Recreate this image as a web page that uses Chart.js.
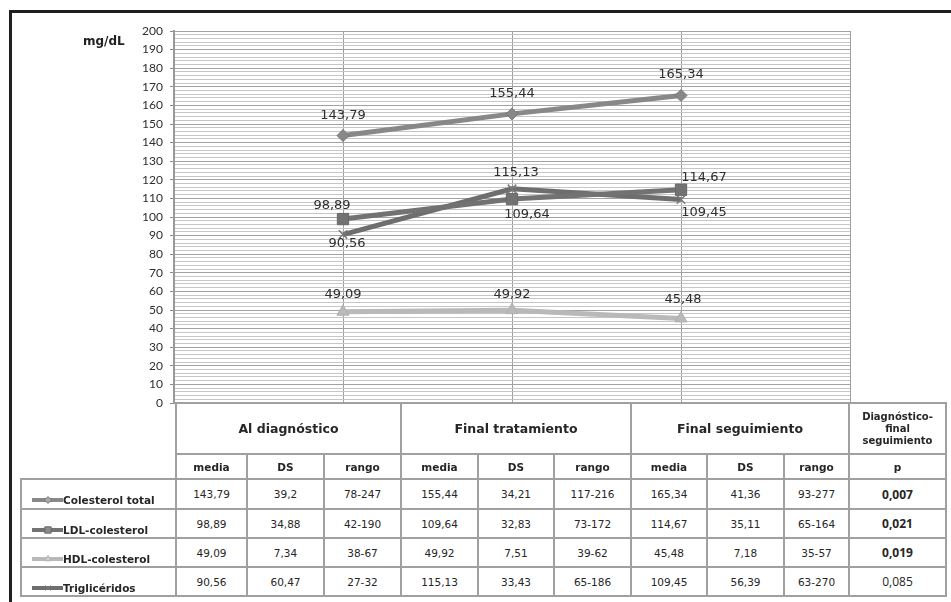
<!DOCTYPE html>
<html>
<head>
<meta charset="utf-8">
<script src="https://cdn.jsdelivr.net/npm/chart.js@4.4.0/dist/chart.umd.min.js"></script>
<style>
  html, body { margin: 0; padding: 0; background: #fff; }
  body { width: 951px; height: 602px; position: relative; overflow: hidden; font-family: "DejaVu Sans", sans-serif; }
  #chart { position: absolute; left: 0; top: 0; }
  #frame { position: absolute; left: 9px; top: 10px; width: 980px; height: 640px;
           border-top: 3px solid #1f1f1f; border-left: 3px solid #1f1f1f; pointer-events: none; }
  #table { position: absolute; left: 0; top: 0; width: 951px; height: 602px; }
  .cell { position: absolute; box-sizing: border-box; border: 2px solid #a0a0a0;
          display: flex; align-items: center; justify-content: center; text-align: center;
          color: #262626; font-size: 10.5px; background: #fff; }
  .grp { font-weight: bold; font-size: 12.5px; }
  .sub { font-weight: bold; font-size: 10.5px; }
  .phead { font-weight: bold; font-size: 10px; line-height: 12px; }
  .pval { font-family: "Open Sans", sans-serif; font-size: 12px; }
  .pval.sig { font-weight: bold; }
  .leg { display: block; }
  .leg canvas { position: absolute; left: 10px; top: 14px; }
  .leg span { position: absolute; left: 41px; top: 13px; font-weight: bold; font-size: 10.5px; line-height: 14px; white-space: nowrap; }
</style>
</head>
<body>
<canvas id="chart" width="951" height="602"></canvas>
<div id="table"></div>
<div id="frame"></div>
<script>
// ---- data ----
const categories = ['Al diagnóstico', 'Final tratamiento', 'Final seguimiento'];
const seriesNames = ['Colesterol total', 'LDL-colesterol', 'HDL-colesterol', 'Triglicéridos'];
const colesterolTotal = [143.79, 155.44, 165.34];
const ldlColesterol   = [98.89, 109.64, 114.67];
const hdlColesterol   = [49.09, 49.92, 45.48];
const trigliceridos   = [90.56, 115.13, 109.45];
const sdColesterol    = [39.2, 34.21, 41.36];
const sdLdl           = [34.88, 32.83, 35.11];
const sdHdl           = [7.34, 7.51, 7.18];
const sdTrig          = [60.47, 33.43, 56.39];
const rangeColesterol = ['78-247', '117-216', '93-277'];
const rangeLdl        = ['42-190', '73-172', '65-164'];
const rangeHdl        = ['38-67', '39-62', '35-57'];
const rangeTrig       = ['27-32', '65-186', '63-270'];
const pValues         = ['0,007', '0,021', '0,019', '0,085'];
const pSignificant    = [true, true, true, false];
const subHeaders      = ['media', 'DS', 'rango'];
const pHeader         = 'Diagnóstico-<br>final<br>seguimiento';
const yMin = 0, yMax = 200, yMajorStep = 10, yMinorStep = 2;
const yTitle = 'mg/dL';

const means = [colesterolTotal, ldlColesterol, hdlColesterol, trigliceridos];
const sds = [sdColesterol, sdLdl, sdHdl, sdTrig];
const ranges = [rangeColesterol, rangeLdl, rangeHdl, rangeTrig];

// ---- styles ----
const seriesStyle = [
  { color: '#888888', marker: 'rectRot',  radius: 6, border: '#787878', legendRadius: 3.5 },
  { color: '#727272', marker: 'rect',     radius: 8, border: '#686868', legendRadius: 4.5 },
  { color: '#b9b9b9', marker: 'triangle', radius: 7, border: '#b0b0b0', legendRadius: 3.5 },
  { color: '#6e6e6e', marker: 'crossRot', radius: 6, border: '#777777', legendRadius: 3.5 }
];
// value label offsets relative to each point (dx, dy)
const labelOffsets = [
  [[0, -20], [0, -20], [0, -21]],
  [[-11, -13], [15, 16], [23, -12]],
  [[0, -17], [0, -16], [2, -19]],
  [[4, 9], [4, -16], [23, 13]]
];

const fmt = v => String(v).replace('.', ',');

const valueLabels = {
  id: 'valueLabels',
  afterDatasetsDraw(chart) {
    const ctx = chart.ctx;
    ctx.save();
    ctx.font = '13px "DejaVu Sans"';
    ctx.fillStyle = '#2e2e2e';
    ctx.textAlign = 'center';
    ctx.textBaseline = 'middle';
    chart.data.datasets.forEach((ds, i) => {
      const meta = chart.getDatasetMeta(i);
      meta.data.forEach((pt, j) => {
        const v = ds.data[j];
        if (v === null || v === undefined) return;
        const off = labelOffsets[i][j - 1];
        ctx.fillText(fmt(v), pt.x + off[0], pt.y + off[1]);
      });
    });
    // axis unit
    ctx.font = 'bold 12px "DejaVu Sans"';
    ctx.fillStyle = '#222';
    ctx.textAlign = 'left';
    ctx.fillText(yTitle, 83, 42);
    ctx.restore();
  }
};

const labels = ['', ...categories, ''];
const datasets = means.map((vals, i) => ({
  label: seriesNames[i],
  data: [null, ...vals, null],
  borderColor: seriesStyle[i].color,
  backgroundColor: seriesStyle[i].color,
  borderWidth: 5,
  pointStyle: seriesStyle[i].marker,
  pointRadius: seriesStyle[i].radius,
  pointHoverRadius: seriesStyle[i].radius,
  pointBackgroundColor: seriesStyle[i].color,
  pointBorderColor: seriesStyle[i].border,
  pointBorderWidth: seriesStyle[i].marker === 'crossRot' ? 1.5 : 1,
  tension: 0,
  clip: false
}));

new Chart(document.getElementById('chart'), {
  type: 'line',
  data: { labels, datasets },
  options: {
    responsive: false,
    animation: false,
    events: [],
    layout: { padding: { left: 0, top: 31, right: 101, bottom: 199 } },
    plugins: { legend: { display: false }, tooltip: { enabled: false } },
    scales: {
      x: {
        type: 'category',
        offset: false,
        grid: { color: '#9e9e9e', lineWidth: 1, drawTicks: false },
        border: { display: true, color: '#9a9a9a', width: 2 },
        ticks: { display: false },
        afterFit(s) { s.height = 0; }
      },
      y: {
        min: yMin, max: yMax,
        ticks: {
          stepSize: yMinorStep, autoSkip: false, padding: 7,
          color: '#2e2e2e', font: { family: 'Lato', size: 12 },
          callback: v => (v % yMajorStep === 0 ? v : '')
        },
        grid: {
          lineWidth: 1,
          tickLength: 4,
          color: c => (c.tick && c.tick.value % yMajorStep === 0 ? '#a2a2a2' : '#c6c6c6'),
          tickColor: c => (c.tick && c.tick.value % yMajorStep === 0 ? '#8c8c8c' : 'rgba(0,0,0,0)')
        },
        border: { display: true, color: '#9a9a9a', width: 2 },
        afterFit(s) { s.width = 174; }
      }
    }
  },
  plugins: [valueLabels]
});

// ---- data table ----
const colEdges = [21, 176, 247, 324, 401, 478, 554, 631, 707, 784, 849, 946];
const rowEdges = [403, 454, 479, 509, 538, 567, 596];
const tbl = document.getElementById('table');

function cell(x0, y0, x1, y1, content, cls, asHtml) {
  const d = document.createElement('div');
  d.className = 'cell ' + (cls || '');
  d.style.left = (x0 - 1) + 'px';
  d.style.top = (y0 - 1) + 'px';
  d.style.width = (x1 - x0 + 2) + 'px';
  d.style.height = (y1 - y0 + 2) + 'px';
  if (asHtml) d.innerHTML = content; else d.textContent = content;
  tbl.appendChild(d);
  return d;
}

categories.forEach((c, g) => {
  cell(colEdges[1 + 3 * g], rowEdges[0], colEdges[4 + 3 * g], rowEdges[1], c, 'grp');
  subHeaders.forEach((h, k) => {
    cell(colEdges[1 + 3 * g + k], rowEdges[1], colEdges[2 + 3 * g + k], rowEdges[2], h, 'sub');
  });
});
cell(colEdges[10], rowEdges[0], colEdges[11], rowEdges[1], pHeader, 'phead', true);
cell(colEdges[10], rowEdges[1], colEdges[11], rowEdges[2], 'p', 'sub');

seriesNames.forEach((name, s) => {
  const y0 = rowEdges[2 + s], y1 = rowEdges[3 + s];
  const leg = cell(colEdges[0], y0, colEdges[1], y1, '', 'leg');
  const cv = document.createElement('canvas');
  cv.width = 32; cv.height = 12;
  leg.appendChild(cv);
  const sp = document.createElement('span');
  sp.textContent = name;
  leg.appendChild(sp);
  const c2 = cv.getContext('2d');
  const st = seriesStyle[s];
  c2.strokeStyle = st.color;
  c2.lineWidth = 4;
  c2.beginPath(); c2.moveTo(0, 6); c2.lineTo(31, 6); c2.stroke();
  c2.fillStyle = st.marker === 'rect' ? '#8a8a8a' : (s === 2 ? '#d0d0d0' : '#a8a8a8');
  c2.strokeStyle = st.border;
  c2.lineWidth = 1;
  Chart.helpers.drawPoint(c2, { pointStyle: st.marker, radius: st.legendRadius, rotation: 0, borderWidth: 1 }, 16, 6);

  categories.forEach((c, g) => {
    cell(colEdges[1 + 3 * g], y0, colEdges[2 + 3 * g], y1, fmt(means[s][g]));
    cell(colEdges[2 + 3 * g], y0, colEdges[3 + 3 * g], y1, fmt(sds[s][g]));
    cell(colEdges[3 + 3 * g], y0, colEdges[4 + 3 * g], y1, ranges[s][g]);
  });
  cell(colEdges[10], y0, colEdges[11], y1, pValues[s], 'pval' + (pSignificant[s] ? ' sig' : ''));
});
</script>
</body>
</html>
